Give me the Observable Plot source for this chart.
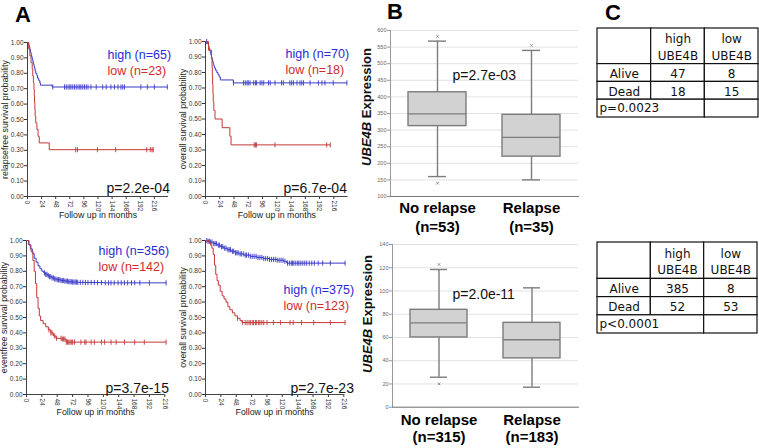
<!DOCTYPE html>
<html><head><meta charset="utf-8">
<script src="https://cdn.jsdelivr.net/npm/d3@7"></script>
<script src="https://cdn.jsdelivr.net/npm/@observablehq/plot@0.6"></script>
<style>
body{margin:0;background:#fff;}
#fig{position:relative;width:759px;height:448px;overflow:hidden;background:#fff;font-family:"Liberation Sans",Arial,sans-serif;}
.panel{position:absolute;font-weight:bold;font-size:22px;line-height:22px;color:#000;}
.ylab{position:absolute;transform:translate(-50%,-50%) rotate(-90deg);white-space:nowrap;font-weight:bold;font-size:13px;color:#111;}
</style></head>
<body><div id="fig">
<div class="panel" style="left:15px;top:4px">A</div>
<div class="panel" style="left:387px;top:1px">B</div>
<div class="panel" style="left:605px;top:2px">C</div>
<div class="ylab" style="left:366px;top:107px"><i>UBE4B</i> Expression</div>
<div class="ylab" style="left:367px;top:314px"><i>UBE4B</i> Expression</div>
</div>
<script>
// ---------- DATA ----------
const kmXTicks = [0,24,48,72,96,120,144,168,192,216];
const kmYTicks = [0,0.1,0.2,0.3,0.4,0.5,0.6,0.7,0.8,0.9,1.0];
const xLabel = "Follow up in months";

// A1 relapse-free (n=65 high / n=23 low)
const a1HighT = [0,2,3,4,5,6,7,8,9,10,11,12,13,14,16,17,19,21,22,42,238];
const a1HighS = [1,.985,.969,.954,.938,.923,.908,.892,.877,.862,.846,.831,.815,.800,.785,.769,.754,.738,.723,.711,.711];
const a1HighC = [43,63,66,69,72,74,77,80,83,86,89,91,94,97,100,103,108,117,128,134,142,148,154,159,162,165,193,204,216,238];
const a1LowT = [0,2,4,6,8,9,10,11,11.5,12,12.5,13,14,16,18,20,37,214];
const a1LowS = [1,.957,.913,.870,.826,.783,.739,.696,.652,.609,.565,.522,.478,.435,.391,.348,.304,.304];
const a1LowC = [82,85,119,150,203,209,212,214];

// A2 overall (n=70 / n=18)
const a2HighT = [0,3,5,6,7,8,9,10,11,12,13,14,15,17,19,21,23,25,47,238];
const a2HighS = [1,.986,.971,.957,.943,.929,.914,.900,.886,.871,.857,.843,.829,.814,.800,.786,.771,.752,.733,.733];
const a2HighC = [2,47,64,67,70,72,75,81,84,86,92,95,98,106,109,117,128,131,142,145,148,154,159,162,165,176,190,196,201,215,238];
const a2LowT = [0,5,10,11,11.5,12,12.5,13,14,16,28,41,43,210];
const a2LowS = [1,.944,.889,.833,.778,.722,.667,.611,.556,.5,.444,.389,.333,.333];
const a2LowC = [82,84,86,117,204,210];

// A3 event-free (n=356 / n=142)
const a3HighT = [0,3,6,9,12,15,18,21,24,27,30,33,36,40,44,48,54,60,66,72,80,90,120,218];
const a3HighS = [1,.975,.946,.915,.885,.86,.835,.816,.80,.79,.78,.772,.765,.757,.75,.745,.74,.736,.732,.73,.728,.727,.725,.725];
const a3HighC = [28,30,32,34,36,38,40,42,44,46,48,50,52,54,56,58,60,62,64,66,68,70,72,74,76,78,80,84,88,92,96,101,106,111,117,123,128,132,137,143,148,153,158,164,169,177,192,218];
const a3LowT = [0,4,7,10,12,14,16,18,20,22,26,30,34,38,42,46,55,62,218];
const a3LowS = [1,.97,.93,.87,.80,.72,.63,.56,.51,.48,.46,.44,.42,.40,.38,.365,.36,.34,.34];
const a3LowC = [35,38,40,44,47,54,56,58,60,62,64,66,68,70,72,75,85,91,93,101,106,117,122,132,140,153,169,184,218];

// A4 overall (n=375 / n=123)
const a4HighT = [0,3,7,12,18,23,28,34,40,46,52,60,70,80,90,100,112,122,127,218];
const a4HighS = [1,.995,.99,.98,.97,.96,.95,.94,.93,.92,.913,.905,.897,.89,.883,.877,.872,.865,.853,.853];
const a4HighC = [2,4,6,8,10,13,15,17,20,22,25,27,30,32,35,37,39,42,44,47,49,51,54,56,59,62,64,67,70,73,76,79,82,85,88,91,94,97,100,103,106,109,112,115,118,121,124,128,131,134,136,138,141,144,146,149,152,155,158,162,166,170,176,183,195,218];
const a4LowT = [0,5,8,10,12,14,16,18,20,23,26,29,32,35,38,42,46,50,54,57,218];
const a4LowS = [1,.99,.97,.95,.91,.84,.78,.74,.71,.67,.64,.62,.60,.57,.55,.53,.51,.495,.48,.467,.467];
const a4LowC = [50,58,62,65,68,70,73,75,78,80,83,85,88,91,96,106,117,132,137,150,169,195,218];

// B box plots
const boxCats = ["No relapse","Relapse"];
const bTopN = [53,35];
const bTopQ1 = [312,220], bTopMed = [349,278], bTopQ3 = [414,346], bTopLo = [160,150], bTopHi = [568,540];
const bTopOut = [[140,582],[555]];
const bTopTicks = [100,150,200,250,300,350,400,450,500,550,600];
const bBotN = [315,183];
const bBotQ1 = [60,42], bBotMed = [72.6,58], bBotQ3 = [83.8,72.6], bBotLo = [25.8,17.2], bBotHi = [118.5,102.7];
const bBotOut = [[20,122.8],[]];
const bBotTicks = [0,20,40,60,80,100,120,140];

// C tables
const tabCols = ["high\nUBE4B","low\nUBE4B"];
const tabRows = ["Alive","Dead"];
const t1Values = [[47,8],[18,15]];
const t1P = "p=0.0023";
const t2Values = [[385,8],[52,53]];
const t2P = "p<0.0001";

// ---------- DRAWING ----------
const FONT = '"Liberation Sans", Arial, sans-serif';
const BLUE = "#3a3ac8", RED = "#c43838", BLUE_T = "#2a2ad4", RED_T = "#d02c2c";
const fig = document.getElementById("fig");
function place(svg, left, top){ svg.style.position="absolute"; svg.style.left=left+"px"; svg.style.top=top+"px"; fig.appendChild(svg); }

const bar = {draw(ctx, size){ const r = Math.sqrt(size/Math.PI); ctx.moveTo(0,-r); ctx.lineTo(0,r); }};
function survAt(T,S,t){ let s=S[0]; for(let i=0;i<T.length;i++){ if(T[i]<=t) s=S[i]; } return s; }
function curveMarks(T,S,C,color){
  const pts = T.map((t,i)=>({t, s:S[i]}));
  const cens = C.map(t=>({t, s:survAt(T,S,t)}));
  return [
    Plot.line(pts,{x:"t",y:"s",curve:"step-after",stroke:color,strokeWidth:1}),
    Plot.dot(cens,{x:"t",y:"s",symbol:bar,r:2.6,stroke:color,fill:"none",strokeWidth:0.9})
  ];
}
function km(c){
  const svg = Plot.plot({
    width:c.w, height:c.h, marginLeft:c.ml, marginRight:c.mr, marginTop:c.mt, marginBottom:c.mb,
    x:{domain:[0,c.xmax]}, y:{domain:[0,1]},
    style:{background:"transparent", overflow:"visible", fontFamily:FONT, color:"#333"},
    marks:[
      Plot.axisY({ticks:kmYTicks, tickFormat:d3.format(".2f"), tickSize:3, tickPadding:1, fontSize:6.5, label:null}),
      Plot.axisX({ticks:kmXTicks, tickRotate:90, tickSize:3, tickPadding:1, fontSize:6.5, label:null}),
      Plot.ruleX([0],{stroke:"#444"}),
      Plot.ruleY([0],{stroke:"#444"}),
      ...curveMarks(c.hiT,c.hiS,c.hiC,BLUE),
      ...curveMarks(c.loT,c.loS,c.loC,RED),
      Plot.text([c.ylabel],{frameAnchor:"left",dx:-22,rotate:-90,textAnchor:"middle",fontSize:8.8,fill:"#222"}),
      Plot.text([xLabel],{frameAnchor:"bottom",dy:c.xly,textAnchor:"middle",fontSize:8.8,fill:"#222"}),
      Plot.text([c.hiLabel],{frameAnchor:"top-left",dx:c.lx,dy:c.ly,textAnchor:"start",fontSize:12.5,fill:BLUE_T}),
      Plot.text([c.loLabel],{frameAnchor:"top-left",dx:c.lx,dy:c.ly+15.5,textAnchor:"start",fontSize:12.5,fill:RED_T}),
      Plot.text([c.p],{frameAnchor:"top-left",dx:c.px,dy:c.py,textAnchor:"start",fontSize:14,fill:"#111"})
    ]
  });
  place(svg, c.left, c.top);
}
km({left:0,top:0,w:175,h:225,ml:27,mr:7,mt:42,mb:29,xmax:240,
  hiT:a1HighT,hiS:a1HighS,hiC:a1HighC,loT:a1LowT,loS:a1LowS,loC:a1LowC,
  ylabel:"relapsefree survival probability",xly:21,hiLabel:"high (n=65)",loLabel:"low (n=23)",
  lx:80,ly:8,p:"p=2.2e-04",px:79,py:141});
km({left:175,top:0,w:178,h:225,ml:30,mr:5.4,mt:41,mb:29,xmax:240,
  hiT:a2HighT,hiS:a2HighS,hiC:a2HighC,loT:a2LowT,loS:a2LowS,loC:a2LowC,
  ylabel:"overall survival probability",xly:21,hiLabel:"high (n=70)",loLabel:"low (n=18)",
  lx:80,ly:8,p:"p=6.7e-04",px:78,py:142});
km({left:0,top:220,w:175,h:220,ml:26,mr:10.7,mt:20,mb:46,xmax:216,
  hiT:a3HighT,hiS:a3HighS,hiC:a3HighC,loT:a3LowT,loS:a3LowS,loC:a3LowC,
  ylabel:"eventfree survival probability",xly:20,hiLabel:"high (n=356)",loLabel:"low (n=142)",
  lx:72,ly:6,p:"p=3.7e-15",px:79,py:143});
km({left:175,top:220,w:178,h:220,ml:30,mr:9.7,mt:20,mb:46,xmax:216,
  hiT:a4HighT,hiS:a4HighS,hiC:a4HighC,loT:a4LowT,loS:a4LowS,loC:a4LowC,
  ylabel:"overall survival probability",xly:20,hiLabel:"high (n=375)",loLabel:"low (n=123)",
  lx:78,ly:45,p:"p=2.7e-23",px:85,py:143});

function box(c){
  const stats = boxCats.map((cat,i)=>({cat, q1:c.q1[i], med:c.med[i], q3:c.q3[i], lo:c.lo[i], hi:c.hi[i]}));
  const outs = boxCats.flatMap((cat,i)=>c.out[i].map(v=>({cat, v})));
  const labels = boxCats.map((cat,i)=>`${cat}\n(n=${c.n[i]})`);
  const G = "#7c7c7c";
  const svg = Plot.plot({
    width:c.w, height:c.h, marginLeft:c.ml, marginRight:c.mr, marginTop:c.mt, marginBottom:c.mb,
    x:{domain:boxCats, padding:0, axis:null},
    y:{domain:c.domain},
    style:{background:"transparent", overflow:"visible", fontFamily:FONT, color:"#666"},
    marks:[
      Plot.gridY({ticks:c.ticks, stroke:"#e2e2e2", strokeOpacity:1}),
      Plot.axisY({ticks:c.ticks, tickSize:3, tickPadding:1, fontSize:5.5, label:null, stroke:"#999"}),
      Plot.frame({anchor:"left", stroke:"#999"}),
      Plot.frame({anchor:"bottom", stroke:"#777"}),
      Plot.ruleX(stats,{x:"cat",y1:"lo",y2:"q1",stroke:G,strokeWidth:1.4}),
      Plot.ruleX(stats,{x:"cat",y1:"q3",y2:"hi",stroke:G,strokeWidth:1.4}),
      Plot.barY(stats,{x:"cat",y1:"q1",y2:"q3",fill:"#d2d2d2",stroke:G,strokeWidth:1.4,insetLeft:18,insetRight:18}),
      Plot.tickY(stats,{x:"cat",y:"med",stroke:G,strokeWidth:1.4,insetLeft:18,insetRight:18}),
      Plot.tickY(stats,{x:"cat",y:"lo",stroke:G,strokeWidth:1.4,insetLeft:38,insetRight:38}),
      Plot.tickY(stats,{x:"cat",y:"hi",stroke:G,strokeWidth:1.4,insetLeft:38,insetRight:38}),
      Plot.dot(outs,{x:"cat",y:"v",symbol:"times",r:1.3,stroke:G,strokeWidth:0.8}),
      Plot.text(boxCats,{x:d=>d,text:(d,i)=>labels[i],frameAnchor:"bottom",lineAnchor:"top",dy:c.ldy,fontSize:15,fontWeight:"bold",lineHeight:c.lh,fill:"#000"}),
      Plot.text([c.p],{frameAnchor:"top-left",dx:c.px,dy:c.py,textAnchor:"start",fontSize:14,fill:"#111"})
    ]
  });
  place(svg, c.left, c.top);
}
box({left:350,top:0,w:230,h:245,ml:40,mr:2,mt:30,mb:49,domain:[100,600],ticks:bTopTicks,
  n:bTopN,q1:bTopQ1,med:bTopMed,q3:bTopQ3,lo:bTopLo,hi:bTopHi,out:bTopOut,ldy:3,lh:1.28,p:"p=2.7e-03",px:62,py:40});
box({left:350,top:240,w:230,h:208,ml:42,mr:2,mt:4,mb:41.3,domain:[0,140],ticks:bBotTicks,
  n:bBotN,q1:bBotQ1,med:bBotMed,q3:bBotQ3,lo:bBotLo,hi:bBotHi,out:bBotOut,ldy:6,lh:1.13,p:"p=2.0e-11",px:60,py:45});

function table(c){
  const cells = [{c0:0,c1:1,r0:0,r1:2,text:""}];
  tabCols.forEach((t,j)=>cells.push({c0:j+1,c1:j+2,r0:0,r1:2,text:t}));
  tabRows.forEach((r,i)=>{
    cells.push({c0:0,c1:1,r0:2+i,r1:3+i,text:r});
    c.values[i].forEach((v,j)=>cells.push({c0:j+1,c1:j+2,r0:2+i,r1:3+i,text:String(v)}));
  });
  const pCell = {c0:0,c1:2,r0:4,r1:5,text:c.p};
  cells.push(pCell, {c0:2,c1:3,r0:4,r1:5,text:""});
  const svg = Plot.plot({
    width:c.w, height:c.h, margin:1,
    x:{domain:[0,3], axis:null}, y:{domain:[0,5], reverse:true, axis:null},
    style:{background:"transparent", overflow:"visible", fontFamily:'"DejaVu Sans", Verdana, sans-serif', color:"#111"},
    marks:[
      Plot.rect(cells,{x1:"c0",x2:"c1",y1:"r0",y2:"r1",fill:"white",stroke:"#111",strokeWidth:1.2}),
      Plot.text(cells.filter(d=>d!==pCell && d.text),{x:d=>(d.c0+d.c1)/2,y:d=>(d.r0+d.r1)/2,text:"text",fontSize:12,lineHeight:1.35,fill:"#111"}),
      Plot.text([pCell],{x:"c0",y:d=>(d.r0+d.r1)/2,text:"text",textAnchor:"start",dx:2,fontSize:12,fill:"#111"})
    ]
  });
  place(svg, c.left, c.top);
}
table({left:596,top:27,w:163,h:91,values:t1Values,p:t1P});
table({left:596,top:241,w:162,h:93,values:t2Values,p:t2P});
</script>
</body></html>
